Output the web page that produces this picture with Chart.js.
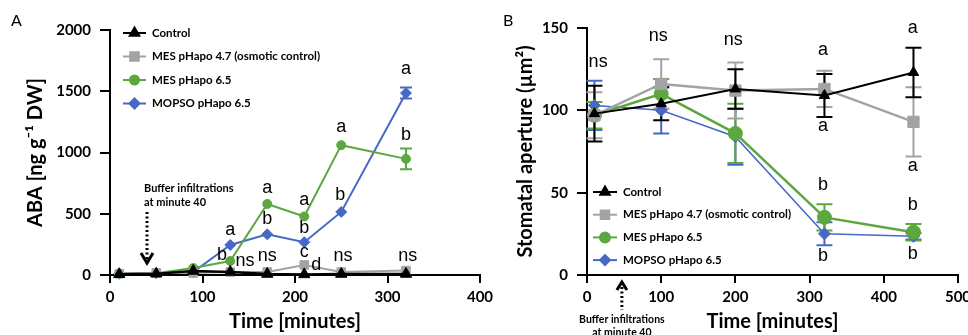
<!DOCTYPE html>
<html>
<head>
<meta charset="utf-8">
<script src="https://cdn.jsdelivr.net/npm/chart.js@4.4.1/dist/chart.umd.min.js"></script>
<style>
html, body { margin: 0; padding: 0; background: #fff; overflow: hidden; }
#wrap { position: relative; width: 968px; height: 335px; overflow: hidden; }
#boxA { position: absolute; left: 0; top: 0; }
#boxB { position: absolute; left: 490px; top: 0; }
</style>
</head>
<body>
<div id="wrap">
  <div id="boxA"><canvas id="chartA" width="520" height="335"></canvas></div>
  <div id="boxB"><canvas id="chartB" width="500" height="335"></canvas></div>
</div>
<script>
// Panel A: ABA (ng/g DW)
var tiempoA = [10, 50, 90, 130, 170, 210, 250, 320];
var controlA = [6, 10, 33, 25, 8, 5, 8, 8];
var mes47A = [10, 18, 16, 24, 25, 82, 25, 36];
var mes65A = [12, 15, 57, 114, 580, 478, 1060, 948];
var mopsoA = [10, 14, 25, 245, 332, 268, 515, 1485];
var errMes65A = [0, 0, 0, 0, 0, 0, 0, 85];
var errMopsoA = [0, 0, 0, 0, 0, 0, 0, 45];

// letras de significancia, panel A
var letrasA = ['a', 'a', 'b', 'a', 'b', 'a', 'b', 'c', 'd', 'b', 'a', 'b', 'ns', 'ns', 'ns', 'ns'];
var letrasAx = [320, 250, 320, 170, 170, 210, 210, 210, 223, 249, 130, 121, 146, 170, 252, 322];
var letrasAy = [1665, 1190, 1125, 693, 440, 595, 367, 171, 65, 636, 350, 147, 98, 139, 139, 139];

// Panel B: apertura estomática (µm²)
var tiempoB = [10, 100, 200, 320, 440];
var controlB = [98, 104, 113, 109, 123];
var mes47B = [97, 116, 112, 113, 93];
var mes65B = [97, 110, 86, 35, 26];
var mopsoB = [103, 100, 84, 25, 23.5];
var errControlB = [17, 10, 12, 13, 15];
var errMes47B = [14, 15, 17, 11, 21];
var errMes65B = [8, 9, 18, 8, 5];
var errMopsoB = [15, 14, 17, 7, 2];

var letrasB = ['ns', 'ns', 'ns', 'a', 'a', 'a', 'a', 'b', 'b', 'b', 'b'];
var letrasBx = [15, 96, 197, 318, 318, 439, 439, 318, 318, 439, 439];
var letrasBy = [128, 144, 141.5, 135.5, 89, 149, 65, 53.5, 10.3, 41, 11.5];

var nombres = ['Control', 'MES pHapo 4.7 (osmotic control)', 'MES pHapo 6.5', 'MOPSO pHapo 6.5'];
var colores = ['#000000', '#a3a3a3', '#5ca73f', '#4768c6'];
var estilos = ['triangle', 'rect', 'circle', 'rectRot'];

function puntos(xs, ys) {
    return xs.map(function (x, i) { return { x: x, y: ys[i] }; });
}

function serie(i, xs, ys, errores, radio, ancho, tapa) {
    return {
        label: nombres[i],
        data: puntos(xs, ys),
        borderColor: colores[i],
        backgroundColor: colores[i],
        pointBackgroundColor: colores[i],
        pointBorderColor: colores[i],
        pointStyle: estilos[i],
        pointRadius: radio[i],
        pointBorderWidth: 1,
        borderWidth: ancho[i],
        tension: 0,
        clip: false,
        errores: errores,
        tapa: tapa
    };
}

// barras de error (se dibujan debajo de los puntos)
var pluginBarras = {
    id: 'barras',
    beforeDatasetsDraw: function (chart) {
        var ctx = chart.ctx, sx = chart.scales.x, sy = chart.scales.y;
        var ds = chart.data.datasets;
        for (var i = ds.length - 1; i >= 0; i--) {
            var d = ds[i];
            if (!d.errores) continue;
            ctx.save();
            ctx.strokeStyle = d.borderColor;
            ctx.lineWidth = 2;
            d.data.forEach(function (p, j) {
                var e = d.errores[j];
                if (!e) return;
                var px = sx.getPixelForValue(p.x);
                var y1 = sy.getPixelForValue(p.y + e);
                var y2 = sy.getPixelForValue(p.y - e);
                ctx.beginPath();
                ctx.moveTo(px, y1); ctx.lineTo(px, y2);
                ctx.moveTo(px - d.tapa, y1); ctx.lineTo(px + d.tapa, y1);
                ctx.moveTo(px - d.tapa, y2); ctx.lineTo(px + d.tapa, y2);
                ctx.stroke();
            });
            ctx.restore();
        }
    }
};

// leyenda propia, dentro del área del gráfico
var pluginLeyenda = {
    id: 'leyenda',
    afterDraw: function (chart, args, o) {
        var ctx = chart.ctx;
        chart.data.datasets.forEach(function (d, i) {
            var y = o.y + i * o.paso;
            ctx.save();
            ctx.strokeStyle = d.borderColor;
            ctx.lineWidth = 2;
            ctx.beginPath();
            ctx.moveTo(o.x, y); ctx.lineTo(o.x + o.largo, y);
            ctx.stroke();
            ctx.fillStyle = d.pointBackgroundColor;
            Chart.helpers.drawPoint(ctx, { pointStyle: d.pointStyle, radius: o.radios[i], borderWidth: 1, rotation: 0 }, o.x + o.largo / 2, y);
            ctx.fillStyle = '#000';
            ctx.font = o.fuente;
            ctx.textBaseline = 'middle';
            ctx.textAlign = 'left';
            ctx.fillText(d.label, o.x + o.largo + o.sep, y);
            ctx.restore();
        });
    }
};

// letras encima/debajo de los puntos
var pluginLetras = {
    id: 'letras',
    afterDraw: function (chart, args, o) {
        var ctx = chart.ctx, sx = chart.scales.x, sy = chart.scales.y;
        ctx.save();
        ctx.fillStyle = '#000';
        ctx.font = '18px "Liberation Sans", Arial, sans-serif';
        ctx.textAlign = 'center';
        ctx.textBaseline = 'middle';
        o.textos.forEach(function (t, i) {
            ctx.fillText(t, sx.getPixelForValue(o.xs[i]), sy.getPixelForValue(o.ys[i]) - 2);
        });
        ctx.font = '16px Lato, sans-serif';
        ctx.textAlign = 'left';
        ctx.fillText(o.panel, o.panelX, 21);
        ctx.restore();
    }
};

// flecha punteada de la infiltración (minuto 40)
var pluginFlecha = {
    id: 'flecha',
    afterDraw: function (chart, args, o) {
        var ctx = chart.ctx, sx = chart.scales.x, sy = chart.scales.y;
        var px = sx.getPixelForValue(o.x);
        ctx.save();
        ctx.strokeStyle = '#000';
        ctx.fillStyle = '#000';
        ctx.lineWidth = 3;
        ctx.font = 'bold 11px Lato, sans-serif';
        ctx.textBaseline = 'middle';
        if (o.abajo) {
            var yIni = sy.getPixelForValue(o.desde), yFin = sy.getPixelForValue(o.hasta);
            ctx.setLineDash([2, 2.5]);
            ctx.beginPath(); ctx.moveTo(px, yIni); ctx.lineTo(px, yFin - 4); ctx.stroke();
            ctx.setLineDash([]);
            ctx.beginPath(); ctx.moveTo(px - 6, yFin - 10); ctx.lineTo(px, yFin); ctx.lineTo(px + 6, yFin - 10); ctx.stroke();
            ctx.textAlign = 'left';
            ctx.fillText('Buffer infiltrations', px - 3, yIni - 24);
            ctx.fillText('at minute 40', px - 3, yIni - 10);
        } else {
            var base = chart.chartArea.bottom;
            ctx.beginPath(); ctx.moveTo(px - 5, base + 15); ctx.lineTo(px, base + 7); ctx.lineTo(px + 5, base + 15); ctx.stroke();
            ctx.setLineDash([2, 2.5]);
            ctx.beginPath(); ctx.moveTo(px, base + 12); ctx.lineTo(px, base + 35); ctx.stroke();
            ctx.setLineDash([]);
            ctx.textAlign = 'center';
            ctx.font = 'bold 10.5px Lato, sans-serif';
            ctx.fillText('Buffer infiltrations', px, base + 45);
            ctx.fillText('at minute 40', px, base + 58);
        }
        ctx.restore();
    }
};

function escalas(xmax, ymax, ypaso, titY, anchoY) {
    var fTick = { family: 'Lato', weight: 'bold', size: 15 };
    return {
        x: {
            type: 'linear', min: 0, max: xmax,
            ticks: { stepSize: 100, color: '#000', font: fTick, padding: 5, maxRotation: 0, format: { useGrouping: false } },
            grid: { drawOnChartArea: false, drawTicks: true, tickLength: 8, color: '#000', lineWidth: 2 },
            border: { color: '#000', width: 2 },
            title: { display: true, text: 'Time [minutes]', color: '#000', font: { family: 'Lato', weight: 'bold', size: 20 }, padding: { top: 0, bottom: 1 } },
            afterFit: function (s) { s.height = 60; }
        },
        y: {
            min: 0, max: ymax,
            ticks: { stepSize: ypaso, color: '#000', font: fTick, padding: 9, format: { useGrouping: false } },
            grid: { drawOnChartArea: false, drawTicks: true, tickLength: 10, color: '#000', lineWidth: 2 },
            border: { color: '#000', width: 2 },
            title: { display: true, text: titY, color: '#000', font: { family: 'Lato', weight: 'bold', size: 20 }, padding: { top: 24, bottom: 0 } },
            afterFit: function (s) { s.width = anchoY; }
        }
    };
}

var radiosA = [6.5, 6, 4.5, 5.5];
var anchosA = [2.5, 2, 2, 2];
var chartA = new Chart(document.getElementById('chartA').getContext('2d'), {
    type: 'line',
    data: {
        datasets: [
            serie(0, tiempoA, controlA, null, radiosA, anchosA, 6),
            serie(1, tiempoA, mes47A, null, radiosA, anchosA, 6),
            serie(2, tiempoA, mes65A, errMes65A, radiosA, anchosA, 6),
            serie(3, tiempoA, mopsoA, errMopsoA, radiosA, anchosA, 6)
        ]
    },
    options: {
        responsive: false,
        animation: false,
        layout: { padding: { left: 0, top: 30, right: 40, bottom: 0 } },
        scales: escalas(400, 2000, 500, 'ABA [ng g⁻¹ DW]', 110),
        plugins: {
            legend: { display: false },
            tooltip: { enabled: false },
            leyenda: { x: 123, y: 33, paso: 23.5, largo: 23, sep: 6, radios: [5.5, 6, 4.5, 5], fuente: 'bold 11.5px Lato, sans-serif' },
            letras: { textos: letrasA, xs: letrasAx, ys: letrasAy, panel: 'A', panelX: 11 },
            flecha: { x: 40, desde: 514, hasta: 98, abajo: true }
        }
    },
    plugins: [pluginBarras, pluginLeyenda, pluginLetras, pluginFlecha]
});

var radiosB = [6, 8, 7, 6];
var anchosB = [2, 2.5, 2.5, 1.5];
var chartB = new Chart(document.getElementById('chartB').getContext('2d'), {
    type: 'line',
    data: {
        datasets: [
            serie(0, tiempoB, controlB, errControlB, radiosB, anchosB, 8),
            serie(1, tiempoB, mes47B, errMes47B, radiosB, anchosB, 8),
            serie(2, tiempoB, mes65B, errMes65B, radiosB, anchosB, 8),
            serie(3, tiempoB, mopsoB, errMopsoB, radiosB, anchosB, 8)
        ]
    },
    options: {
        responsive: false,
        animation: false,
        layout: { padding: { left: 0, top: 28, right: 32, bottom: 0 } },
        scales: escalas(500, 150, 50, 'Stomatal aperture (µm²)', 97),
        plugins: {
            legend: { display: false },
            tooltip: { enabled: false },
            leyenda: { x: 103, y: 192, paso: 22.7, largo: 24, sep: 6, radios: [5.5, 6, 5, 5], fuente: 'bold 11.5px Lato, sans-serif' },
            letras: { textos: letrasB, xs: letrasBx, ys: letrasBy, panel: 'B', panelX: 13 },
            flecha: { x: 47, abajo: false }
        }
    },
    plugins: [pluginBarras, pluginLeyenda, pluginLetras, pluginFlecha]
});
</script>
</body>
</html>
